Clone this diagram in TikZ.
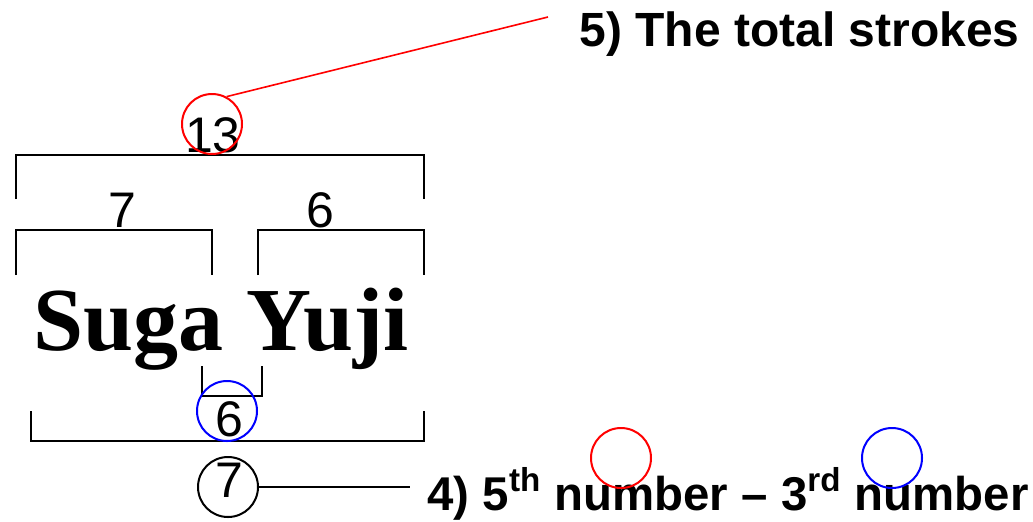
\documentclass[tikz,border=0pt]{standalone}
\usepackage{fontspec}
\setmainfont{Liberation Serif}
\setsansfont{Liberation Sans}
\usetikzlibrary{positioning,calc}
\tikzset{
  % stroke counts and their rings
  num/.style={font=\sffamily\fontsize{25}{30}\selectfont, inner sep=0pt, anchor=base},
  ring/.style={draw, circle, minimum size=30pt, inner sep=0pt, line width=1pt},
  % explanation texts
  note/.style={font=\sffamily\bfseries\fontsize{24}{28}\selectfont, inner sep=0pt, anchor=base west},
  note-low/.style={note, font=\sffamily\bfseries\fontsize{23.7}{28}\selectfont},
  % brackets and leader lines
  brk/.style={line width=1pt},
  lead/.style={line width=0.8pt}
}

\begin{document}
\begin{tikzpicture}[x=0.5pt, y=-0.5pt]
\useasboundingbox (0,0) rectangle (1033,521);

% ============== NAME ==============
\node[font=\bfseries\fontsize{45}{54}\selectfont, inner sep=0pt, anchor=base] (name) at (221,350) {Suga Yuji};

% ============== BRACKETS ==============
\draw[brk] (16,199) |- (424,155) -- (424,199);
\draw[brk] (16,275) |- (212,230) -- (212,275);
\draw[brk] (258,275) |- (424,230) -- (424,275);
\draw[brk] (202,366) |- (262,396) -- (262,366);
\draw[brk] (31,411) |- (424,441) -- (424,411);

% ============== NUMBERS ==============
\node[num] (total) at (213,152) {13};
\node[num] (sur) at (122,227) {7};
\node[num] (given) at (320,227) {6};
\node[num] (mid) at (229,436) {6};
\node[num] (res) at (229,497) {7};

\node[ring, red] (ringtotal) at (212,124) {};
\node[ring, blue] (ringmid) at (227,411) {};
\node[ring] (ringres) at (228,487) {};

% ============== NOTES ==============
\node[note] (note5) at (579,46) {5) The total strokes};
\node[note-low] (note4) at (427,510) {4) 5\textsuperscript{th} number -- 3\textsuperscript{rd} number};

\node[ring, red] (ringfifth) at (621,458) {};
\node[ring, blue] (ringthird) at (892,458) {};

\coordinate (lead5) at (548,17);
\coordinate (lead4) at (410,487);
\draw[lead, red] (ringtotal.62) -- (lead5);
\draw[lead] (ringres.east) -- (lead4);

\end{tikzpicture}
\end{document}
